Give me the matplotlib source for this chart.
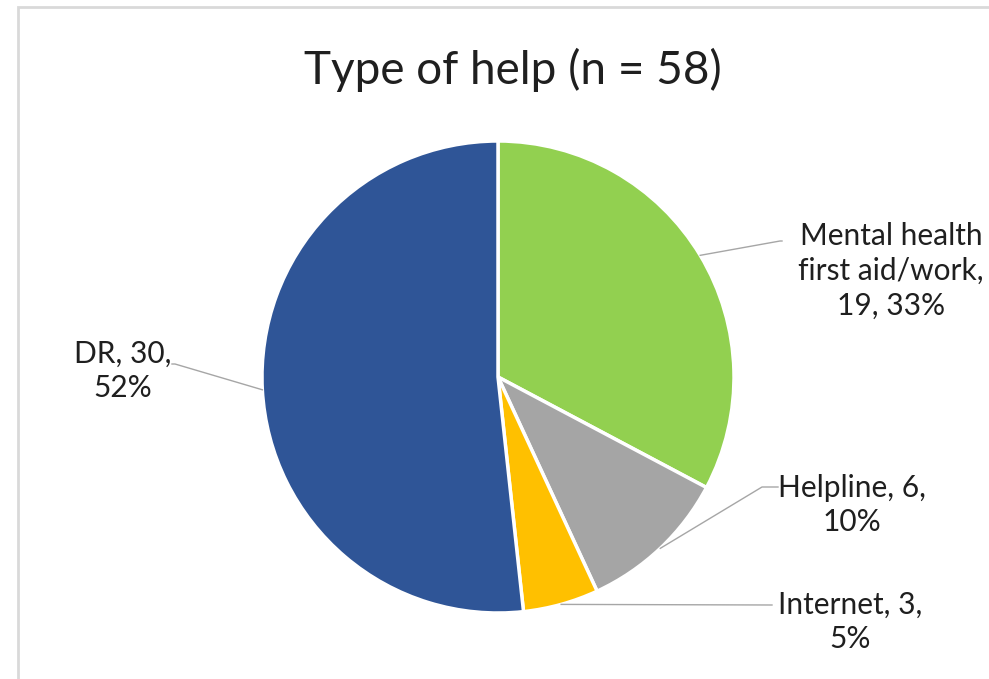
import numpy as np
import matplotlib.pyplot as plt
from matplotlib.patches import Rectangle

plt.rcParams['font.family'] = ['Lato', 'DejaVu Sans']

categorias = ['Mental health\nfirst aid/work', 'Helpline', 'Internet', 'DR']
valores = [19, 6, 3, 30]
cores = ['#92D050', '#A5A5A5', '#FFC000', '#2F5597']

W, H = 989, 679
total = sum(valores)

fig = plt.figure(figsize=(W / 100, H / 100), dpi=100)
ax = fig.add_axes([0, 0, 1, 1])

def py(y):
    # coordenadas de tela (y para baixo) -> dados
    return H - y

centro = (498, py(377))
raio = 236

fatias, _ = ax.pie(valores, colors=cores, startangle=90, counterclock=False,
                   center=centro, radius=raio,
                   wedgeprops=dict(edgecolor='white', linewidth=2.5))

ax.set_xlim(0, W)
ax.set_ylim(0, H)
ax.set_aspect('equal')
ax.axis('off')

# moldura cinza do grafico
ax.add_patch(Rectangle((18, py(1000)), 1200, 1000 - 7, fill=False,
                       edgecolor='#D9D9D9', linewidth=2))

ax.text(513, py(70), 'Type of help (n = ' + str(total) + ')', ha='center',
        va='center', fontsize=33, color='#1F1F1F')

# rotulos: cotovelo da linha, ponta da linha, centro do texto
posicoes = [
    ((780, 241), (782, 241), (891, 271)),
    ((762, 487), (778, 487), (852, 505)),
    ((772, 605), (772, 605), (850, 622)),
    ((175, 364), (172, 364), (123, 371)),
]

inicio = 90
for i, (nome, v) in enumerate(zip(categorias, valores)):
    ang = inicio - 360 * v / total
    meio = np.deg2rad((inicio + ang) / 2)
    inicio = ang
    x0 = centro[0] + raio * np.cos(meio)
    y0 = centro[1] + raio * np.sin(meio)
    cot, ponta, txt = posicoes[i]
    ax.plot([x0, cot[0], ponta[0]], [y0, py(cot[1]), py(ponta[1])],
            color='#A6A6A6', linewidth=1)
    pct = round(100 * v / total)
    if i == 0:
        rotulo = nome + ',\n' + str(v) + ', ' + str(pct) + '%'
    else:
        rotulo = nome + ', ' + str(v) + ',\n' + str(pct) + '%'
    ax.text(txt[0], py(txt[1]), rotulo, ha='center', va='center',
            multialignment='center', fontsize=21.5, color='#1F1F1F',
            linespacing=1.3)

fig.savefig('out.png', dpi=100, facecolor='white')
